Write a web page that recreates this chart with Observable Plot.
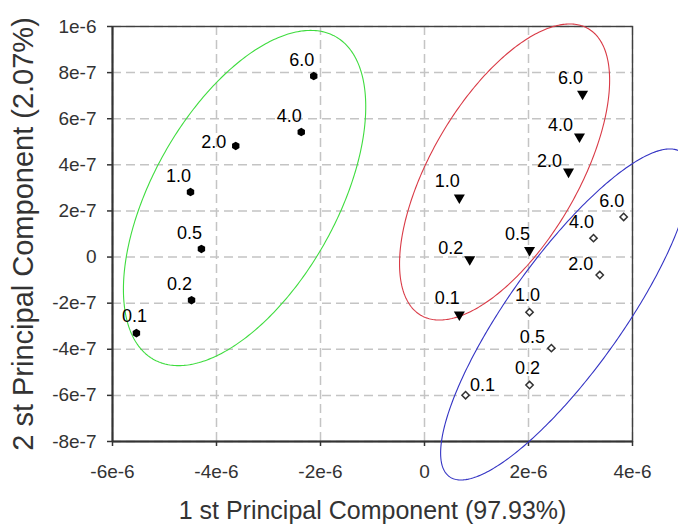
<!DOCTYPE html>
<html>
<head>
<meta charset="utf-8">
<script src="https://cdn.jsdelivr.net/npm/d3@7"></script>
<script src="https://cdn.jsdelivr.net/npm/@observablehq/plot@0.6"></script>
<style>
  html, body { margin: 0; padding: 0; background: #fff; overflow: hidden; }
  #chart svg { display: block; }
</style>
</head>
<body>
<div id="chart"></div>
<script>
// ---- Data ----
const levels = ["0.1", "0.2", "0.5", "1.0", "2.0", "4.0", "6.0"];

const greenX = [-5.54e-6, -4.48e-6, -4.29e-6, -4.50e-6, -3.63e-6, -2.37e-6, -2.13e-6];
const greenY = [-3.30e-7, -1.87e-7, 0.35e-7, 2.82e-7, 4.82e-7, 5.42e-7, 7.85e-7];

const redX = [0.67e-6, 0.87e-6, 2.02e-6, 0.67e-6, 2.77e-6, 2.98e-6, 3.04e-6];
const redY = [-2.50e-7, -0.10e-7, 0.30e-7, 2.58e-7, 3.70e-7, 5.22e-7, 7.08e-7];

const blueX = [0.79e-6, 2.02e-6, 2.44e-6, 2.02e-6, 3.37e-6, 3.25e-6, 3.83e-6];
const blueY = [-5.99e-7, -5.55e-7, -3.95e-7, -2.39e-7, -0.78e-7, 0.82e-7, 1.74e-7];

// label placement codes (relative to marker)
const greenSide = ["u", "ul", "ul", "ul", "w", "ul", "ul"];
const redSide   = ["ul", "l", "ul", "ul", "l", "l", "ul"];
const blueSide  = ["r", "u", "l", "u", "l", "ul", "ul"];

// confidence ellipses: centre, half-extent in x and y, correlation
const ellipseNames = ["green", "red", "blue"];
const ellipseCX  = [-3.46e-6, 1.54e-6, 2.71e-6];
const ellipseCY  = [0.256e-6, 0.369e-6, -0.249e-6];
const ellipseHX  = [2.33e-6, 2.02e-6, 2.40e-6];
const ellipseHY  = [0.727e-6, 0.642e-6, 0.718e-6];
const ellipseRho = [0.545, 0.62, 0.837];

// axes
const xTicks = [-6e-6, -4e-6, -2e-6, 0, 2e-6, 4e-6];
const xTickLabels = ["-6e-6", "-4e-6", "-2e-6", "0", "2e-6", "4e-6"];
const yTicks = [-8e-7, -6e-7, -4e-7, -2e-7, 0, 2e-7, 4e-7, 6e-7, 8e-7, 1e-6];
const yTickLabels = ["-8e-7", "-6e-7", "-4e-7", "-2e-7", "0", "2e-7", "4e-7", "6e-7", "8e-7", "1e-6"];

const xTitle = "1 st Principal Component (97.93%)";
const yTitle = "2 st Principal Component (2.07%)";

// ---- Build tables ----
function rows(name, xs, ys, sides) {
  return levels.map((lv, i) => ({group: name, level: lv, x: xs[i], y: ys[i], side: sides[i]}));
}
const greenPts = rows("green", greenX, greenY, greenSide);
const redPts = rows("red", redX, redY, redSide);
const bluePts = rows("blue", blueX, blueY, blueSide);
const allPts = [...greenPts, ...redPts, ...bluePts];

function ellipse(i) {
  const n = 360, r = ellipseRho[i], s = Math.sqrt(1 - r * r);
  return d3.range(n + 1).map(k => {
    const t = 2 * Math.PI * k / n;
    return {
      x: ellipseCX[i] + ellipseHX[i] * Math.cos(t),
      y: ellipseCY[i] + ellipseHY[i] * (r * Math.cos(t) + s * Math.sin(t))
    };
  });
}

const ellipseColors = {green: "#3fdc3f", red: "#d93a46", blue: "#3434c4"};

// downward triangle symbol
const triangleDown = {
  draw(context, size) {
    const sqrt3 = Math.sqrt(3);
    const y = -Math.sqrt(size / (sqrt3 * 3));
    context.moveTo(0, -y * 2);
    context.lineTo(-sqrt3 * y, y);
    context.lineTo(sqrt3 * y, y);
    context.closePath();
  }
};

const sideOffsets = {
  ul: {dx: -12, dy: -16},
  u:  {dx: -2,  dy: -17},
  l:  {dx: -19, dy: -11},
  w:  {dx: -22, dy: -4},
  r:  {dx: 17,  dy: -10}
};

const labelMarks = Object.entries(sideOffsets).map(([code, o]) =>
  Plot.text(allPts.filter(d => d.side === code), {
    x: "x", y: "y", text: "level", dx: o.dx, dy: o.dy,
    fontSize: 18, fill: "#000", textAnchor: "middle", lineAnchor: "middle"
  })
);

const chart = Plot.plot({
  width: 678,
  height: 526,
  marginLeft: 112,
  marginRight: 46,
  marginTop: 26,
  marginBottom: 85,
  style: {fontFamily: "'Liberation Sans', Arial, sans-serif", background: "#fff", color: "#333"},
  x: {domain: [-6e-6, 4e-6]},
  y: {domain: [-8e-7, 1e-6]},
  marks: [
    Plot.gridX(xTicks, {stroke: "#c4c4c4", strokeOpacity: 1, strokeWidth: 1.5, strokeDasharray: "9,5"}),
    Plot.gridY(yTicks, {stroke: "#c4c4c4", strokeOpacity: 1, strokeWidth: 1.5, strokeDasharray: "9,5"}),
    Plot.frame({stroke: "#404040", strokeWidth: 1.4}),
    Plot.ruleX([-6e-6], {stroke: "#333", strokeWidth: 2}),
    Plot.ruleY([-8e-7], {stroke: "#333", strokeWidth: 2}),
    Plot.axisX(xTicks, {
      tickFormat: d => xTickLabels[xTicks.indexOf(d)],
      tickSize: 5, tickPadding: 18, fontSize: 19, stroke: "#333", strokeWidth: 1.5,
      fill: "#333", label: null
    }),
    Plot.axisY(yTicks, {
      tickFormat: d => yTickLabels[yTicks.indexOf(d)],
      tickSize: 5, tickPadding: 11, fontSize: 19, stroke: "#333", strokeWidth: 1.5,
      fill: "#333", label: null
    }),
    ...ellipseNames.map((name, i) =>
      Plot.line(ellipse(i), {x: "x", y: "y", stroke: ellipseColors[name], strokeWidth: 1.1, clip: false})
    ),
    Plot.dot(greenPts, {x: "x", y: "y", symbol: "hexagon", r: 3.7, fill: "#000", stroke: "none"}),
    Plot.dot(redPts, {x: "x", y: "y", symbol: triangleDown, r: 4.1, fill: "#000", stroke: "none"}),
    Plot.dot(bluePts, {x: "x", y: "y", symbol: "diamond2", r: 3.3, fill: "#fff", stroke: "#333", strokeWidth: 1.5}),
    ...labelMarks,
    Plot.text([xTitle], {
      frameAnchor: "bottom", dy: 69, fontSize: 25, fill: "#333",
      textAnchor: "middle", lineAnchor: "middle"
    }),
    Plot.text([yTitle], {
      frameAnchor: "left", dx: -89, rotate: -90, fontSize: 29, fill: "#333",
      textAnchor: "middle", lineAnchor: "middle"
    })
  ]
});

document.getElementById("chart").appendChild(chart);
</script>
</body>
</html>
